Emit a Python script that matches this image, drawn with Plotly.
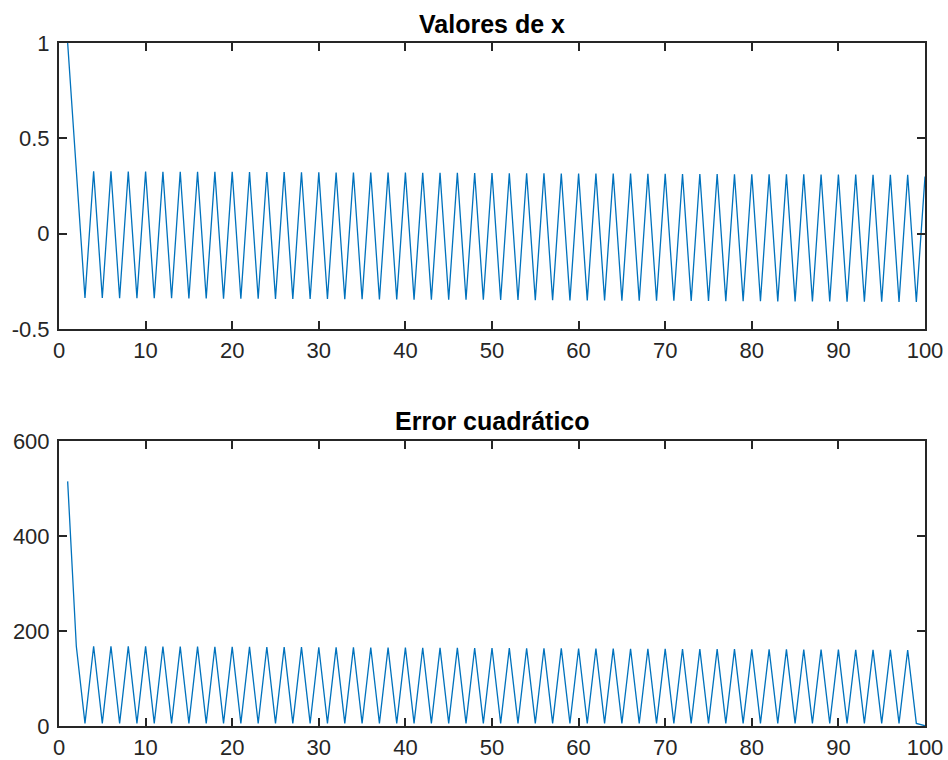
import plotly.graph_objects as go

iterations = list(range(1, 101))

x_values = [
    1.000, 0.330, -0.337, 0.327, -0.337, 0.327, -0.338, 0.326, -0.338, 0.326,
    -0.339, 0.325, -0.339, 0.325, -0.340, 0.325, -0.340, 0.324, -0.341, 0.324,
    -0.341, 0.323, -0.341, 0.323, -0.342, 0.323, -0.342, 0.322, -0.343, 0.322,
    -0.343, 0.321, -0.344, 0.321, -0.344, 0.321, -0.345, 0.320, -0.345, 0.320,
    -0.346, 0.319, -0.346, 0.319, -0.346, 0.319, -0.347, 0.318, -0.347, 0.318,
    -0.348, 0.317, -0.348, 0.317, -0.349, 0.317, -0.349, 0.316, -0.350, 0.316,
    -0.350, 0.315, -0.350, 0.315, -0.351, 0.315, -0.351, 0.314, -0.352, 0.314,
    -0.352, 0.313, -0.353, 0.313, -0.353, 0.313, -0.354, 0.312, -0.354, 0.312,
    -0.354, 0.311, -0.355, 0.311, -0.355, 0.311, -0.356, 0.310, -0.356, 0.310,
    -0.357, 0.310, -0.357, 0.309, -0.357, 0.309, -0.358, 0.309, -0.358, 0.300,
]

error_values = [
    515, 168, 5.6, 168.0, 5.6, 167.8, 5.6, 167.7, 5.6, 167.5,
    5.6, 167.3, 5.6, 167.2, 5.6, 167.0, 5.6, 166.8, 5.6, 166.6,
    5.6, 166.5, 5.6, 166.3, 5.6, 166.1, 5.6, 166.0, 5.6, 165.8,
    5.6, 165.6, 5.6, 165.4, 5.6, 165.3, 5.6, 165.1, 5.6, 164.9,
    5.6, 164.8, 5.6, 164.6, 5.6, 164.4, 5.6, 164.3, 5.6, 164.1,
    5.6, 163.9, 5.6, 163.7, 5.6, 163.6, 5.6, 163.4, 5.6, 163.2,
    5.6, 163.1, 5.6, 162.9, 5.6, 162.7, 5.6, 162.6, 5.6, 162.4,
    5.6, 162.2, 5.6, 162.0, 5.6, 161.9, 5.6, 161.7, 5.6, 161.5,
    5.6, 161.4, 5.6, 161.2, 5.6, 161.0, 5.6, 160.9, 5.6, 160.7,
    5.6, 160.5, 5.6, 160.3, 5.6, 160.2, 5.6, 160.0, 5.5, 0.5,
]

x_ticks = [0, 10, 20, 30, 40, 50, 60, 70, 80, 90, 100]
top_y_ticks = [-0.5, 0, 0.5, 1]
top_y_labels = ["-0.5", "0", "0.5", "1"]
bottom_y_ticks = [0, 200, 400, 600]
titles = ["Valores de x", "Error cuadrático"]

LINE = "#0072BD"
AX = "#262626"
FONT = "Liberation Sans, Arial, Helvetica, sans-serif"

fig = go.Figure()
fig.add_trace(go.Scatter(x=iterations, y=x_values, mode="lines",
                         line=dict(color=LINE, width=1.3), xaxis="x", yaxis="y",
                         showlegend=False, hoverinfo="skip"))
fig.add_trace(go.Scatter(x=iterations, y=error_values, mode="lines",
                         line=dict(color=LINE, width=1.3), xaxis="x2", yaxis="y2",
                         showlegend=False, hoverinfo="skip"))

W, H = 948, 760
left, right = 59, 925
top1, bot1 = 43, 329
top2, bot2 = 441, 726

axis_common = dict(showline=True, linecolor=AX, linewidth=2, mirror="ticks",
                   ticks="inside", ticklen=8, tickwidth=2, tickcolor=AX,
                   showgrid=False, zeroline=False, automargin=False,
                   tickfont=dict(family=FONT, size=22, color=AX))

fig.update_layout(
    width=W, height=H,
    margin=dict(l=0, r=0, t=0, b=0),
    plot_bgcolor="white", paper_bgcolor="white",
    xaxis=dict(domain=[left / W, right / W], anchor="y", range=[0, 100],
               tickvals=x_ticks, ticklabelstandoff=1, **axis_common),
    yaxis=dict(domain=[1 - bot1 / H, 1 - top1 / H], anchor="x", range=[-0.5, 1],
               tickvals=top_y_ticks, ticktext=top_y_labels, ticklabelstandoff=3,
               **axis_common),
    xaxis2=dict(domain=[left / W, right / W], anchor="y2", range=[0, 100],
                tickvals=x_ticks, ticklabelstandoff=1, **axis_common),
    yaxis2=dict(domain=[1 - bot2 / H, 1 - top2 / H], anchor="x2", range=[0, 600],
                tickvals=bottom_y_ticks, ticklabelstandoff=3, **axis_common),
)

cx = (left + right) / 2 / W
fig.add_annotation(text="<b>" + titles[0] + "</b>", x=cx, y=1 - 24 / H,
                   xref="paper", yref="paper", showarrow=False,
                   font=dict(family=FONT, size=25, color="black"),
                   xanchor="center", yanchor="middle")
fig.add_annotation(text="<b>" + titles[1] + "</b>", x=cx, y=1 - 421 / H,
                   xref="paper", yref="paper", showarrow=False,
                   font=dict(family=FONT, size=25, color="black"),
                   xanchor="center", yanchor="middle")

fig.write_html("out.html")
